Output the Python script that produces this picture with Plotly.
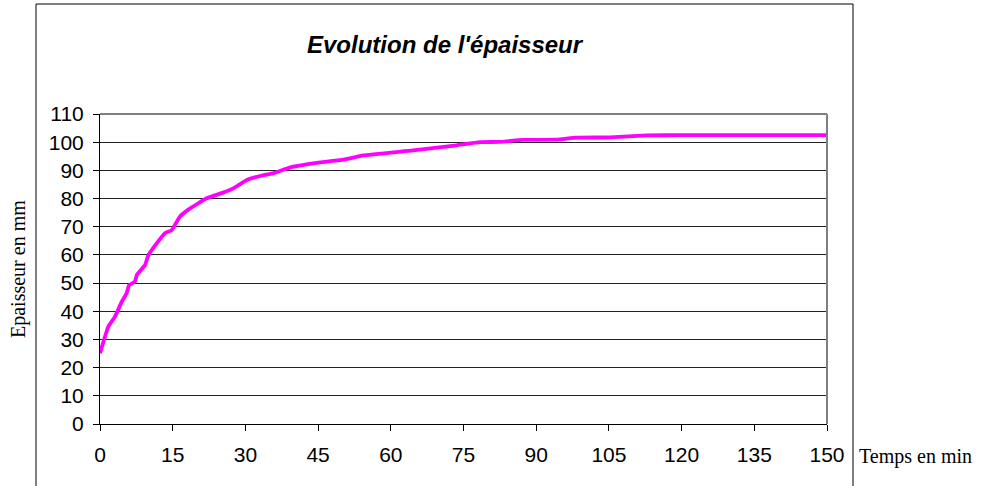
import plotly.graph_objects as go

temps = [0, 1.7, 3.1, 4.5, 5.5, 6.0, 7.2, 7.6, 9.3, 10.0, 11.7, 13.4, 14.8, 16.5, 18.6,
         22.0, 25.4, 27.5, 30.3, 33.0, 35.8, 37.1, 39.9, 44.0, 50.2, 54.3, 64.6, 73.6,
         78.4, 82.5, 87.3, 94.2, 98.3, 105.2, 112.8, 120, 135, 150]
epaisseur = [25.1, 34.5, 38.1, 43.4, 46.4, 49.3, 50.5, 52.9, 56.4, 60.0, 64.1, 67.7, 68.8,
             73.6, 76.5, 80.1, 82.1, 83.6, 86.6, 88.0, 89.0, 89.8, 91.3, 92.5, 93.8, 95.3,
             97.1, 98.9, 100.0, 100.1, 100.8, 100.9, 101.6, 101.7, 102.4, 102.5, 102.5, 102.5]

x_ticks = list(range(0, 151, 15))
y_ticks = list(range(0, 111, 10))

L, R, T, B = 100, 827, 114, 424
W, H = 984, 486

def px(x):
    return (x - L) / (R - L)

def py(y):
    return (B - y) / (B - T)

SANS = "Liberation Sans, Arial, sans-serif"
SERIF = "Liberation Serif, Times New Roman, serif"

fig = go.Figure()
fig.add_trace(go.Scatter(x=temps, y=epaisseur, mode="lines",
                         line=dict(color="#FF00FF", width=3.8, shape="spline", smoothing=0.3),
                         showlegend=False, cliponaxis=False, hoverinfo="skip"))

fig.update_layout(
    width=W, height=H,
    margin=dict(l=L, r=W - R, t=T, b=H - B),
    paper_bgcolor="white", plot_bgcolor="white",
    font=dict(family=SANS, size=21, color="black"),
    xaxis=dict(range=[0, 150], tickvals=x_ticks, ticks="outside", ticklen=6, tickcolor="black",
               showline=True, linecolor="black", linewidth=1, showgrid=False, zeroline=False,
               mirror=False, tickfont=dict(family=SANS, size=21), ticklabelstandoff=6),
    yaxis=dict(range=[0, 110], tickvals=y_ticks, ticks="outside", ticklen=6, tickcolor="black",
               showline=True, linecolor="black", linewidth=1, showgrid=True, gridcolor="#222",
               gridwidth=1, zeroline=False, tickfont=dict(family=SANS, size=21), ticklabelstandoff=5),
    shapes=[
        dict(type="line", xref="paper", yref="paper", x0=0, x1=1, y0=1, y1=1,
             line=dict(color="#808080", width=2)),
        dict(type="line", xref="paper", yref="paper", x0=1, x1=1, y0=0, y1=1,
             line=dict(color="#808080", width=2)),
        dict(type="rect", xref="paper", yref="paper", x0=px(36), x1=px(853), y0=py(500), y1=py(4),
             line=dict(color="black", width=1), layer="below"),
    ],
    annotations=[
        dict(text="<b><i>Evolution de l'épaisseur</i></b>", xref="paper", yref="paper",
             x=px(445), y=py(45), xanchor="center", yanchor="middle", showarrow=False,
             font=dict(family=SANS, size=24, color="black")),
        dict(text="Epaisseur en mm", xref="paper", yref="paper", x=px(18), y=py(269),
             xanchor="center", yanchor="middle", textangle=-90, showarrow=False,
             font=dict(family=SERIF, size=20, color="black")),
        dict(text="Temps en min", xref="paper", yref="paper", x=px(857), y=py(456),
             xanchor="left", yanchor="middle", showarrow=False,
             font=dict(family=SERIF, size=20, color="black")),
    ],
)

fig.write_html("out.html", config={"displayModeBar": False},
               post_script="document.body.style.margin='0px';")
